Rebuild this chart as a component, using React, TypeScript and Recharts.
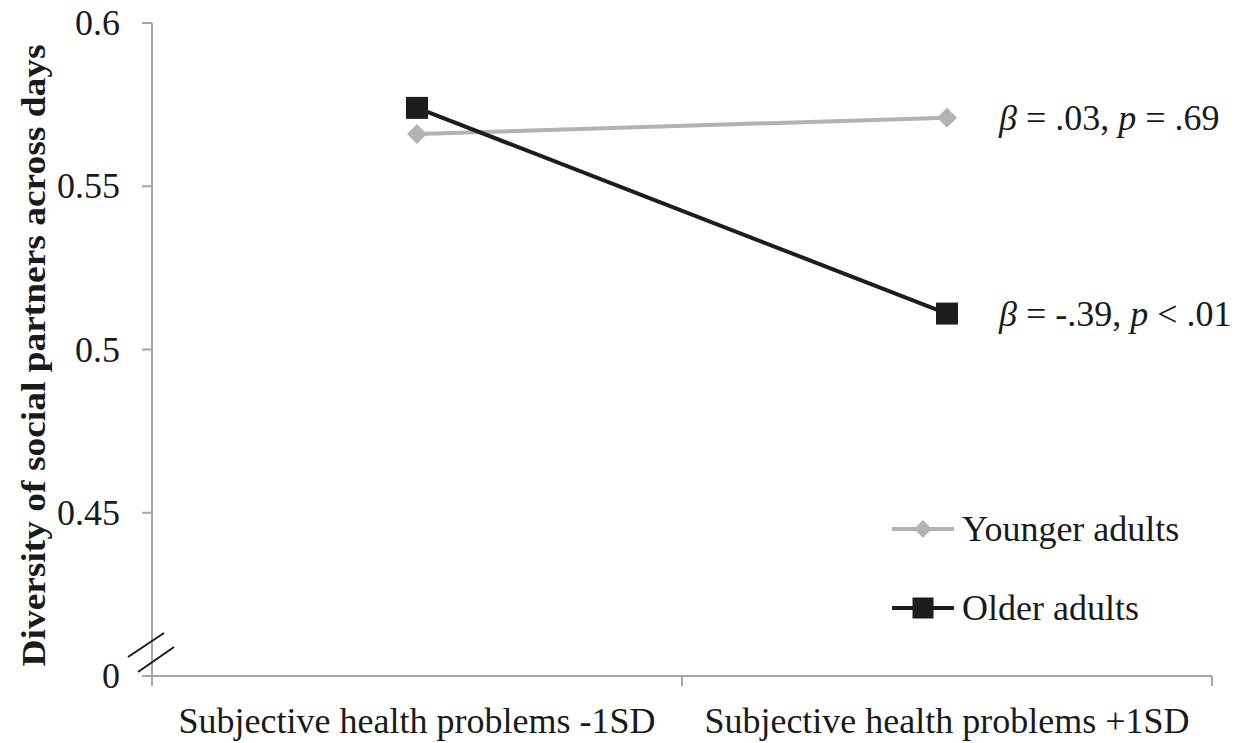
import { LineChart, Line, XAxis, YAxis, Legend, LabelList } from "recharts"

// categories and group means
const levels = ["Subjective health problems -1SD", "Subjective health problems +1SD"]
const seriesNames = ["Younger adults", "Older adults"]
const younger = [0.566, 0.571]
const older = [0.574, 0.511]

// simple slope tests printed next to the +1SD points
const betas = [".03", "-.39"]
const pValues = ["= .69", "< .01"]

// broken y axis: the lowest tick stands for 0
const yTicks = [0.4, 0.45, 0.5, 0.55, 0.6]
const yTickLabels = ["0", "0.45", "0.5", "0.55", "0.6"]
const xTicks = [0, 0.5, 1, 1.5, 2]

const FONT = '"Liberation Serif", "Times New Roman", serif'
const AXIS = "#a6a6a6"
const YOUNG = "#b3b3b3"
const OLD = "#1d1d1d"
const INK = "#1a1a1a"

const data = levels.map((name, i) => ({
  pos: i + 0.5,
  name,
  younger: younger[i],
  older: older[i],
}))

function Diamond({ cx, cy, r = 10 }: any) {
  return <polygon points={`${cx},${cy - r} ${cx + r},${cy} ${cx},${cy + r} ${cx - r},${cy}`} fill={YOUNG} />
}

function Square({ cx, cy, s = 22 }: any) {
  return <rect x={cx - s / 2} y={cy - s / 2} width={s} height={s} fill={OLD} />
}

function YTick({ x, y, payload }: any) {
  const i = yTicks.indexOf(payload.value)
  const ax = x + 32 // where the axis line sits
  return (
    <g>
      <text x={x} y={y} textAnchor="end" dominantBaseline="central" fontSize={36} fontFamily={FONT} fill={INK}>
        {yTickLabels[i]}
      </text>
      {i === 0 && (
        <g stroke={INK} strokeWidth={2}>
          <line x1={ax - 24} y1={y - 19} x2={ax + 12} y2={y - 43} />
          <line x1={ax - 14} y1={y - 4} x2={ax + 22} y2={y - 29} />
        </g>
      )}
    </g>
  )
}

function XTick({ x, y, payload }: any) {
  const v = payload.value
  if (Number.isInteger(v)) {
    return <line x1={x} y1={y} x2={x} y2={y + 10} stroke={AXIS} strokeWidth={2} />
  }
  return (
    <text x={x} y={y + 57} textAnchor="middle" fontSize={36} fontFamily={FONT} fill={INK}>
      {levels[Math.floor(v)]}
    </text>
  )
}

const slopeNote = (k: number) => (p: any) => {
  if (p.index !== levels.length - 1) return null
  return (
    <text x={p.x + 52} y={p.y} dominantBaseline="central" fontSize={36} fontFamily={FONT} fill={INK}>
      <tspan fontStyle="italic">β</tspan> = {betas[k]}, <tspan fontStyle="italic">p</tspan> {pValues[k]}
    </text>
  )
}

function YTitle(p: any) {
  const vb = p.viewBox || { x: 0, y: 23, height: 653 }
  const cx = vb.x + 33
  const cy = vb.y + vb.height / 2 + 6
  return (
    <text
      x={cx}
      y={cy}
      transform={`rotate(-90 ${cx} ${cy})`}
      textAnchor="middle"
      dominantBaseline="central"
      fontSize={34}
      fontWeight="bold"
      fontFamily={FONT}
      fill={INK}
      textLength={622}
      lengthAdjust="spacingAndGlyphs"
    >
      Diversity of social partners across days
    </text>
  )
}

function LegendBody() {
  const icons = [
    <Diamond cx={31} cy={15} r={9} />,
    <Square cx={31} cy={15} s={21} />,
  ]
  const colors = [YOUNG, OLD]
  return (
    <div style={{ fontFamily: FONT, fontSize: 36, color: INK }}>
      {seriesNames.map((n, i) => (
        <div key={n} style={{ display: "flex", alignItems: "center", height: 40, marginBottom: 39 }}>
          <svg width={62} height={30}>
            <line x1={0} y1={15} x2={62} y2={15} stroke={colors[i]} strokeWidth={4} />
            {icons[i]}
          </svg>
          <span style={{ marginLeft: 8 }}>{n}</span>
        </div>
      ))}
    </div>
  )
}

export default function App() {
  return (
    <div style={{ position: "absolute", left: 0, top: 0, width: 1248, height: 743, background: "#fff" }}>
      <LineChart width={1248} height={743} data={data} margin={{ top: 23, right: 36, bottom: 0, left: 0 }}>
        <XAxis
          type="number"
          dataKey="pos"
          domain={[0, 2]}
          ticks={xTicks}
          interval={0}
          height={67}
          tickSize={0}
          tickMargin={0}
          tickLine={false}
          axisLine={{ stroke: AXIS, strokeWidth: 2 }}
          tick={<XTick />}
        />
        <YAxis
          type="number"
          domain={[0.4, 0.6]}
          ticks={yTicks}
          interval={0}
          width={152}
          tickSize={10}
          tickMargin={22}
          tickLine={{ stroke: AXIS, strokeWidth: 2 }}
          axisLine={{ stroke: AXIS, strokeWidth: 2 }}
          tick={<YTick />}
          label={{ content: YTitle }}
        />
        <Legend
          layout="vertical"
          align="center"
          verticalAlign="middle"
          wrapperStyle={{ position: "absolute", left: 892, top: 509, width: 330 }}
          content={LegendBody}
        />
        <Line
          type="linear"
          dataKey="younger"
          name={seriesNames[0]}
          stroke={YOUNG}
          strokeWidth={4}
          dot={(p: any) => <Diamond key={`y-${p.index}`} cx={p.cx} cy={p.cy} />}
          activeDot={false}
          isAnimationActive={false}
        >
          <LabelList dataKey="younger" content={slopeNote(0)} />
        </Line>
        <Line
          type="linear"
          dataKey="older"
          name={seriesNames[1]}
          stroke={OLD}
          strokeWidth={4}
          dot={(p: any) => <Square key={`o-${p.index}`} cx={p.cx} cy={p.cy} />}
          activeDot={false}
          isAnimationActive={false}
        >
          <LabelList dataKey="older" content={slopeNote(1)} />
        </Line>
      </LineChart>
    </div>
  )
}
